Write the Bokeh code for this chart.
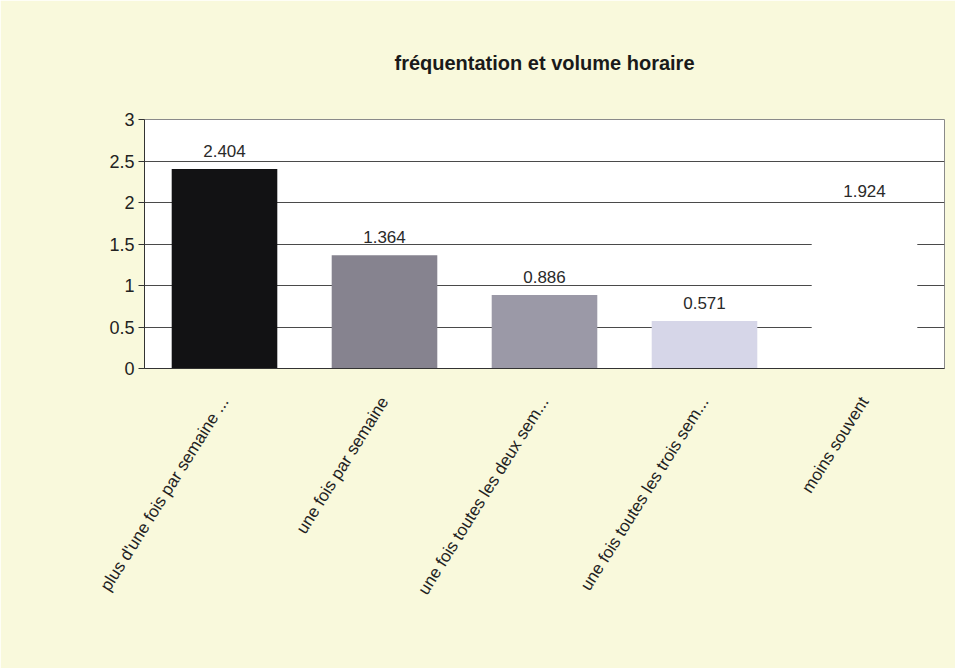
from bokeh.plotting import figure
from bokeh.models import ColumnDataSource, LabelSet, FixedTicker, Range1d
from bokeh.core.properties import value
from bokeh.embed import file_html
from bokeh.resources import INLINE

categories = ["plus d'une fois par semaine ...", "une fois par semaine",
              "une fois toutes les deux sem...", "une fois toutes les trois sem...",
              "moins souvent"]
values = [2.404, 1.364, 0.886, 0.571, 1.924]
value_labels = ["2.404", "1.364", "0.886", "0.571", "1.924"]
bar_colors = ["#121214", "#86838f", "#9b99a7", "#d6d6e8", "#ffffff"]
y_ticks = [0, 0.5, 1, 1.5, 2, 2.5, 3]

src = ColumnDataSource(dict(cat=categories, val=values, lab=value_labels, col=bar_colors))

p = figure(x_range=categories, y_range=Range1d(0, 3), width=955, height=668,
           output_backend="svg", toolbar_location=None,
           title="fréquentation et volume horaire",
           min_border_left=144, min_border_right=11, min_border_top=119, min_border_bottom=300)

p.title.align = "center"
p.title.text_font = "Liberation Sans"
p.title.text_font_size = "20px"
p.title.text_font_style = "bold"
p.title.text_color = "#1a1a1a"
p.title.standoff = 91

p.background_fill_color = "#ffffff"
p.border_fill_color = "#f9f9dc"
p.outline_line_color = "#8a8a8a"
p.outline_line_width = 1

p.vbar(x="cat", top="val", width=0.66, source=src, fill_color="col", line_color=None)

labels = LabelSet(x="cat", y="val", text="lab", source=src, text_align="center",
                  y_offset=12, text_font=value("Liberation Sans"), text_font_size="17px",
                  text_color="#2a2a2a")
p.add_layout(labels)

p.ygrid.ticker = FixedTicker(ticks=y_ticks)
p.ygrid.grid_line_color = "#4a4a4a"
p.ygrid.grid_line_width = 1
p.xgrid.grid_line_color = None

p.yaxis.ticker = FixedTicker(ticks=y_ticks)
p.yaxis.major_label_text_font = "Liberation Sans"
p.yaxis.major_label_text_font_size = "18px"
p.yaxis.major_label_text_color = "#222222"
p.yaxis.axis_line_color = "#333333"
p.yaxis.major_tick_line_color = "#333333"
p.yaxis.major_tick_out = 6
p.yaxis.major_tick_in = 0
p.yaxis.minor_tick_line_color = None
p.yaxis.major_label_standoff = 4

p.xaxis.major_label_orientation = 1.01
p.xaxis.major_label_text_font = "Liberation Sans"
p.xaxis.major_label_text_font_size = "17px"
p.xaxis.major_label_text_color = "#222222"
p.xaxis.axis_line_color = "#333333"
p.xaxis.major_tick_line_color = None
p.xaxis.major_label_standoff = 24

open("out.html", "w").write(file_html(p, INLINE))
